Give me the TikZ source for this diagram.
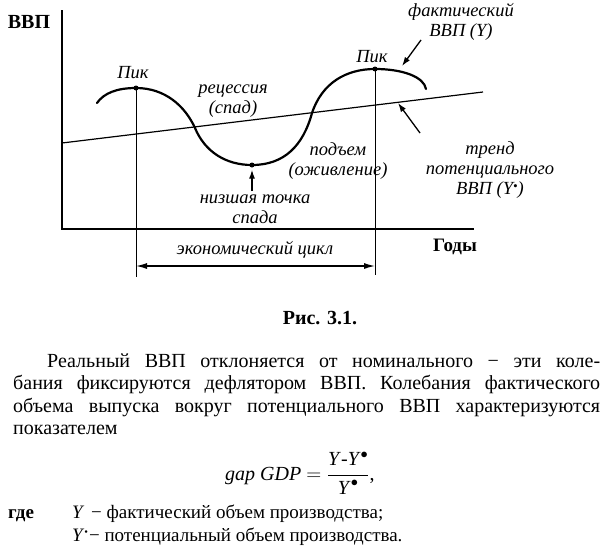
\documentclass[tikz,border=0pt]{standalone}
\usepackage{fontspec}
\setmainfont{Liberation Serif}
\usetikzlibrary{arrows.meta}
\begin{document}
\begin{tikzpicture}[x=1pt,y=-1pt,
  lbl/.style={font=\fontsize{18.5}{20}\selectfont\itshape, inner sep=0pt, align=center},
  bold/.style={font=\fontsize{19}{21}\selectfont\bfseries, inner sep=0pt},
  body/.style={font=\fontsize{20}{22}\selectfont, inner sep=0pt},
  axis/.style={line width=1.8pt},
  thin/.style={line width=0.9pt},
  curve/.style={line width=2.2pt},
  arr/.style={line width=1.3pt, -{Latex[length=9pt,width=6pt]}},
  dot/.style={circle, fill=black, inner sep=0pt, minimum size=5pt}]
\useasboundingbox (0,0) rectangle (616,554);
% axes
\coordinate (ytop) at (62,10);
\coordinate (orig) at (62,229);
\coordinate (xend) at (474,229);
\draw[axis] (ytop) -- (orig) -- (xend);
\node[bold, font=\fontsize{20}{22}\selectfont\bfseries] (yl) at (29,22) {ВВП};
\node[bold] (xl) at (455,247) {Годы};
% trend line
\coordinate (t0) at (62,143);
\coordinate (t1) at (483,92);
\draw[thin, line width=1.2pt] (t0) -- (t1);
% peaks and trough
\node[dot] (p1) at (136,88) {};
\node[dot] (p2) at (375,69) {};
\node[dot] (tr) at (252,165) {};
\coordinate (cs) at (97,103);
\coordinate (c1) at (195,128);
\coordinate (c2) at (312,113);
\coordinate (ce) at (426,89);
\draw[curve, line cap=round] (cs) .. controls (104,93) and (117,88) .. (p1.center)
  .. controls (165,88) and (185,106) .. (c1)
  .. controls (205,152) and (226,165) .. (tr.center)
  .. controls (284,165) and (303,146) .. (c2)
  .. controls (322,83) and (346,69) .. (p2.center)
  .. controls (403,69) and (424,77) .. (ce);
% vertical lines
\coordinate (v1) at (136,277);
\coordinate (v2) at (375,275);
\draw[thin] (p1.center) -- (v1);
\draw[thin] (p2.center) -- (v2);
% cycle arrow
\coordinate (a1) at (136,266);
\coordinate (a2) at (375,266);
\draw[line width=1.3pt, {Latex[length=11pt,width=6pt]}-{Latex[length=11pt,width=6pt]}] (a1) -- (a2);
\node[lbl] (cyc) at (255,250) {экономический цикл};
% labels
\node[lbl] (pk1) at (133,73) {Пик};
\node[lbl] (pk2) at (372,57) {Пик};
\node[lbl] (rec) at (233,101) {рецессия\\(спад)};
\node[lbl] (rise) at (338,161) {подъем\\(оживление)};
\node[lbl] (low) at (255,209) {низшая точка\\спада};
\node[lbl] (fact) at (461,22) {фактический\\ВВП (Y)};
\node[lbl] (trend) at (490,170) {тренд\\потенциального\\ВВП (Y\raisebox{0.45ex}{\scalebox{0.7}{•}})};
% arrows
\coordinate (lw) at (252,191);
\draw[arr, shorten >=2pt] (lw) -- (tr);
\coordinate (f0) at (421,40);
\coordinate (f1) at (402,66);
\draw[arr] (f0) -- (f1);
\coordinate (g0) at (420,133);
\coordinate (g1) at (398,103);
\draw[arr] (g0) -- (g1);
% caption
\node[bold, font=\fontsize{20}{22}\selectfont\bfseries] (cap) at (320,318) {Рис. 3.1.};
% body text
\node[body, anchor=base west] (txt) at (13,367) {\parbox[t]{587pt}{\fontsize{20}{22.5}\selectfont
\hspace*{34pt}Реальный ВВП отклоняется от номинального − эти коле-\linebreak
бания фиксируются дефлятором ВВП. Колебания фактического\linebreak
объема выпуска вокруг потенциального ВВП характеризуются\linebreak
показателем}};
\node[body, anchor=base west] (frm) at (225,480) {\textit{gap GDP} $\displaystyle =\frac{\mbox{\textit{Y}-\textit{Y}}^{\bullet}}{\mbox{\textit{Y}}^{\bullet}}$,};
\node[body, font=\fontsize{19}{21}\selectfont\bfseries, anchor=base west] (gde) at (8,518) {где};
\node[body, anchor=base west] (defs) at (72,518) {\parbox[t]{500pt}{\fontsize{19}{23}\selectfont
\textit{Y}\kern2pt{} − фактический объем производства;\\
\textit{Y}\raisebox{0.6ex}{\scalebox{0.55}{•}}\kern1pt− потенциальный объем производства.}};
\end{tikzpicture}
\end{document}
